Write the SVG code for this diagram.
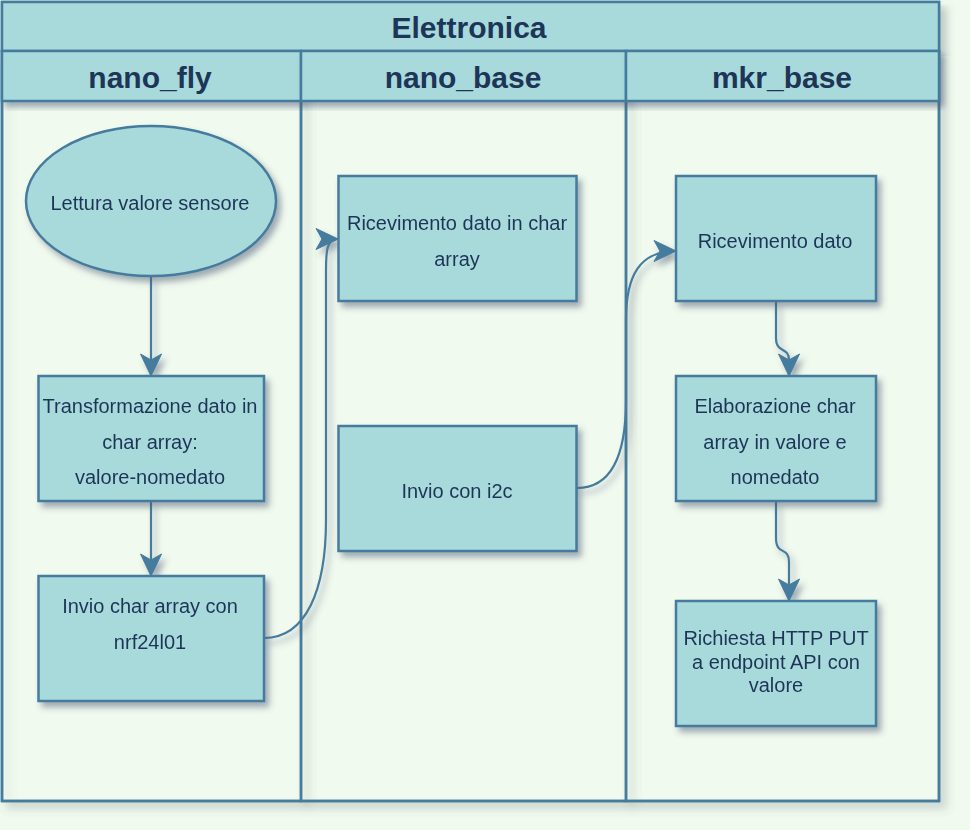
<svg xmlns="http://www.w3.org/2000/svg" width="970" height="830" viewBox="0 0 970 830">
  <style>
    .head { fill: #A8DADC; stroke: #457B9D; stroke-width: 2.5; }
    .body { fill: #F1FAEE; stroke: #457B9D; stroke-width: 2.5; }
    .lane { fill: none; stroke: #457B9D; stroke-width: 2.5; }
    .node { fill: #A8DADC; stroke: #457B9D; stroke-width: 2.5; }
    .htxt { font-family: "Liberation Sans", Arial, sans-serif; font-weight: bold; font-size: 30px; fill: #1D3557; text-anchor: middle; }
    .txt { font-family: "Liberation Sans", Arial, sans-serif; font-size: 20px; fill: #1D3557; text-anchor: middle; }
    .edge { fill: none; stroke: #457B9D; stroke-width: 2.2; marker-end: url(#arrow); }
  </style>
  <defs>
    <filter id="shadow" x="-10%" y="-10%" width="125%" height="130%">
      <feGaussianBlur in="SourceAlpha" stdDeviation="3"/>
      <feOffset dx="4" dy="5" result="b"/>
      <feFlood flood-color="#4a5a78" flood-opacity="0.5"/>
      <feComposite in2="b" operator="in"/>
      <feMerge>
        <feMergeNode/>
        <feMergeNode in="SourceGraphic"/>
      </feMerge>
    </filter>
    <filter id="lshadow" x="-5%" y="-5%" width="115%" height="115%">
      <feGaussianBlur in="SourceAlpha" stdDeviation="4"/>
      <feOffset dx="6" dy="6" result="b"/>
      <feFlood flood-color="#6a7a80" flood-opacity="0.22"/>
      <feComposite in2="b" operator="in"/>
      <feMerge>
        <feMergeNode/>
        <feMergeNode in="SourceGraphic"/>
      </feMerge>
    </filter>
    <marker id="arrow" markerUnits="userSpaceOnUse" markerWidth="26" markerHeight="24" viewBox="-24 -12 26 24" refX="0" refY="0" orient="auto">
      <path d="M0,0 L-22,-10.5 L-16,0 L-22,10.5 Z" fill="#457B9D" stroke="#457B9D" stroke-width="1"/>
    </marker>
  </defs>

  <rect x="0" y="0" width="970" height="830" fill="#F1FAEE"/>

  <!-- pool -->
  <g id="pool">
    <rect class="body" x="2" y="2" width="937" height="799" filter="url(#lshadow)"/>
  </g>

  <!-- lanes -->
  <g id="lane-nano-fly">
    <rect class="lane" x="2" y="51" width="299" height="750" filter="url(#lshadow)"/>
  </g>
  <g id="lane-nano-base">
    <rect class="lane" x="301" y="51" width="325" height="750" filter="url(#lshadow)"/>
  </g>
  <g id="lane-mkr-base">
    <rect class="lane" x="626" y="51" width="313" height="750" filter="url(#lshadow)"/>
  </g>

  <!-- headers -->
  <g id="pool-title">
    <rect class="head" x="2" y="2" width="937" height="49" filter="url(#lshadow)"/>
    <text class="htxt" x="469" y="38">Elettronica</text>
  </g>
  <g id="lane-headers">
    <rect class="head" x="2" y="51" width="299" height="50" filter="url(#shadow)"/>
    <rect class="head" x="301" y="51" width="325" height="50" filter="url(#shadow)"/>
    <rect class="head" x="626" y="51" width="313" height="50" filter="url(#shadow)"/>
    <text class="htxt" x="150" y="88">nano_fly</text>
    <text class="htxt" x="463" y="88">nano_base</text>
    <text class="htxt" x="782" y="88">mkr_base</text>
  </g>

  <!-- connectors -->
  <g id="connectors" filter="url(#shadow)">
    <path class="edge" d="M151,276 L151,376"/>
    <path class="edge" d="M151,501 L151,576"/>
    <path class="edge" d="M264,638 C306,638 326,590 326,520 L326,270 C326,250 327,239 338,239"/>
    <path class="edge" d="M577,488 C612,488 626,455 626,400 L626,320 C626,275 640,251 676,251"/>
    <path class="edge" d="M776,301 L776,338 C776,354 789,346 789,360 L789,376"/>
    <path class="edge" d="M776,501 L776,538 C776,556 789,546 789,562 L789,601"/>
  </g>

  <!-- nano_fly nodes -->
  <g id="lettura" filter="url(#shadow)">
    <ellipse class="node" cx="151" cy="201" rx="125" ry="75"/>
    <text class="txt" x="150" y="210">Lettura valore sensore</text>
  </g>
  <g id="trasformazione" filter="url(#shadow)">
    <rect class="node" x="38.5" y="376" width="225.5" height="125"/>
    <text class="txt" x="150" y="413">Transformazione dato in</text>
    <text class="txt" x="150" y="448.5">char array:</text>
    <text class="txt" x="150" y="484">valore-nomedato</text>
  </g>
  <g id="invio-nrf" filter="url(#shadow)">
    <rect class="node" x="38.5" y="576" width="225.5" height="125"/>
    <text class="txt" x="150" y="613">Invio char array con</text>
    <text class="txt" x="150" y="648.5">nrf24l01</text>
  </g>

  <!-- nano_base nodes -->
  <g id="ricevimento-char" filter="url(#shadow)">
    <rect class="node" x="338.5" y="176" width="238" height="125"/>
    <text class="txt" x="457" y="230">Ricevimento dato in char</text>
    <text class="txt" x="457" y="266">array</text>
  </g>
  <g id="invio-i2c" filter="url(#shadow)">
    <rect class="node" x="338.5" y="426" width="238" height="125"/>
    <text class="txt" x="457" y="498">Invio con i2c</text>
  </g>

  <!-- mkr_base nodes -->
  <g id="ricevimento" filter="url(#shadow)">
    <rect class="node" x="676" y="176" width="200" height="125"/>
    <text class="txt" x="775" y="247.5">Ricevimento dato</text>
  </g>
  <g id="elaborazione" filter="url(#shadow)">
    <rect class="node" x="676" y="376" width="200" height="125"/>
    <text class="txt" x="775" y="413">Elaborazione char</text>
    <text class="txt" x="775" y="448.5">array in valore e</text>
    <text class="txt" x="775" y="484">nomedato</text>
  </g>
  <g id="richiesta" filter="url(#shadow)">
    <rect class="node" x="676" y="601" width="200" height="125"/>
    <text class="txt" x="776" y="644.5">Richiesta HTTP PUT</text>
    <text class="txt" x="776" y="669">a endpoint API con</text>
    <text class="txt" x="776" y="692">valore</text>
  </g>
</svg>
